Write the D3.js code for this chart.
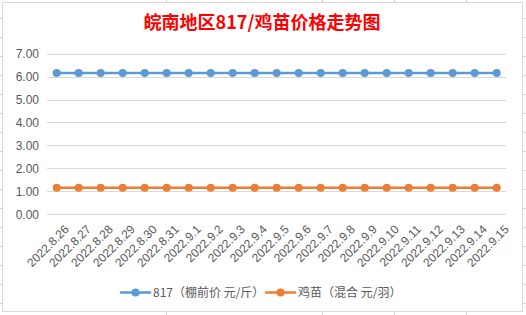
<!DOCTYPE html>
<html>
  <head>
    <title>皖南地区817/鸡苗价格走势图</title>
    <meta charset="utf-8">
    <script type="text/javascript" src="https://d3js.org/d3.v7.min.js"></script>
    <style>
      body { margin: 0; background: #fff; }
      svg { display: block; }
    </style>
  </head>

  <body>
    <svg></svg>

    <script type="text/javascript">
      "use strict";

      // data
      var dates = ['2022.8.26', '2022.8.27', '2022.8.28', '2022.8.29', '2022.8.30',
                   '2022.8.31', '2022.9.1', '2022.9.2', '2022.9.3', '2022.9.4',
                   '2022.9.5', '2022.9.6', '2022.9.7', '2022.9.8', '2022.9.9',
                   '2022.9.10', '2022.9.11', '2022.9.12', '2022.9.13', '2022.9.14',
                   '2022.9.15'];
      var price817 = [6.16, 6.16, 6.16, 6.16, 6.16, 6.16, 6.16, 6.16, 6.16, 6.16,
                      6.16, 6.16, 6.16, 6.16, 6.16, 6.16, 6.16, 6.16, 6.16, 6.16, 6.16];
      var priceChick = [1.16, 1.16, 1.16, 1.16, 1.16, 1.16, 1.16, 1.16, 1.16, 1.16,
                        1.16, 1.16, 1.16, 1.16, 1.16, 1.16, 1.16, 1.16, 1.16, 1.16, 1.16];
      var yTicks = [0, 1, 2, 3, 4, 5, 6, 7];
      var seriesNames = ['817（棚前价 元/斤）', '鸡苗（混合 元/羽）'];

      var W = 526, H = 315;
      var svg = d3.select('svg').attr('width', W).attr('height', H);

      // spreadsheet cells behind the chart
      var sheet = svg.append('g').attr('stroke', '#d4d4d4').attr('stroke-width', 1);
      d3.range(18, H, 19).forEach(function(y) {
        sheet.append('line').attr('x1', 0).attr('x2', W)
             .attr('y1', y + 0.5).attr('y2', y + 0.5);
      });
      [166, 322, 394, 466].forEach(function(x) {
        sheet.append('line').attr('x1', x + 0.5).attr('x2', x + 0.5)
             .attr('y1', 0).attr('y2', H);
      });

      // chart box
      svg.append('rect')
         .attr('x', 2.5).attr('y', 2.5)
         .attr('width', 520).attr('height', 309)
         .attr('fill', '#fff')
         .attr('stroke', '#d9d9d9');

      svg.append('text')
         .attr('x', 262).attr('y', 29)
         .attr('text-anchor', 'middle')
         .attr('font-family', '"Noto Sans CJK SC", sans-serif')
         .attr('font-weight', 'bold')
         .attr('font-size', 18)
         .attr('fill', '#ff0000')
         .text('皖南地区817/鸡苗价格走势图');

      var x = d3.scaleBand()
                .domain(dates)
                .range([45.7, 507.7]);
      var y = d3.scaleLinear()
                .domain([0, 7])
                .range([214.3, 53.6]);

      // horizontal gridlines
      svg.append('g')
         .selectAll('line')
         .data(yTicks)
         .enter().append('line')
         .attr('x1', 47).attr('x2', 506)
         .attr('y1', function(d) { return Math.round(y(d)) + 0.5; })
         .attr('y2', function(d) { return Math.round(y(d)) + 0.5; })
         .attr('stroke', '#d9d9d9');

      // y axis labels
      var yAxis = svg.append('g')
         .attr('transform', 'translate(39,0)')
         .call(d3.axisLeft(y).tickValues(yTicks).tickFormat(d3.format('.2f')).tickSize(0).tickPadding(0));
      yAxis.select('.domain').remove();
      yAxis.selectAll('text')
           .attr('font-family', '"Liberation Sans", Arial, sans-serif')
           .attr('font-size', 12)
           .attr('fill', '#595959');

      // x axis labels, rotated
      svg.append('g')
         .selectAll('text')
         .data(dates)
         .enter().append('text')
         .attr('transform', function(d) {
           return 'translate(' + (x(d) + x.bandwidth() / 2 + 7) + ',224) rotate(-45)';
         })
         .attr('text-anchor', 'end')
         .attr('dy', '0.71em')
         .attr('font-family', '"Liberation Sans", Arial, sans-serif')
         .attr('font-size', 12)
         .attr('fill', '#595959')
         .text(function(d) { return d; });

      var colors = ['#5b9bd5', '#ed7d31'];
      var series = [price817, priceChick];

      var line = d3.line()
                   .x(function(d, i) { return x(dates[i]) + x.bandwidth() / 2; })
                   .y(function(d) { return y(d); });

      series.forEach(function(vals, k) {
        svg.append('path')
           .datum(vals)
           .attr('d', line)
           .attr('fill', 'none')
           .attr('stroke', colors[k])
           .attr('stroke-width', 2.5)
           .attr('stroke-linecap', 'round');
        svg.append('g')
           .selectAll('circle')
           .data(vals)
           .enter().append('circle')
           .attr('cx', function(d, i) { return x(dates[i]) + x.bandwidth() / 2; })
           .attr('cy', function(d) { return y(d); })
           .attr('r', 4)
           .attr('fill', colors[k]);
      });

      // legend
      var legendX = [121, 266];
      var legend = svg.append('g');
      seriesNames.forEach(function(name, k) {
        var g = legend.append('g').attr('transform', 'translate(' + legendX[k] + ',292.5)');
        g.append('line').attr('x1', 0).attr('x2', 29)
         .attr('stroke', colors[k]).attr('stroke-width', 2.5).attr('stroke-linecap', 'round');
        g.append('circle').attr('cx', 14.5).attr('r', 4).attr('fill', colors[k]);
        g.append('text').attr('x', 32).attr('dy', '0.35em')
         .attr('font-family', '"Noto Sans CJK SC", sans-serif')
         .attr('font-size', 12)
         .attr('fill', '#595959')
         .text(name);
      });
    </script>
  </body>
</html>
